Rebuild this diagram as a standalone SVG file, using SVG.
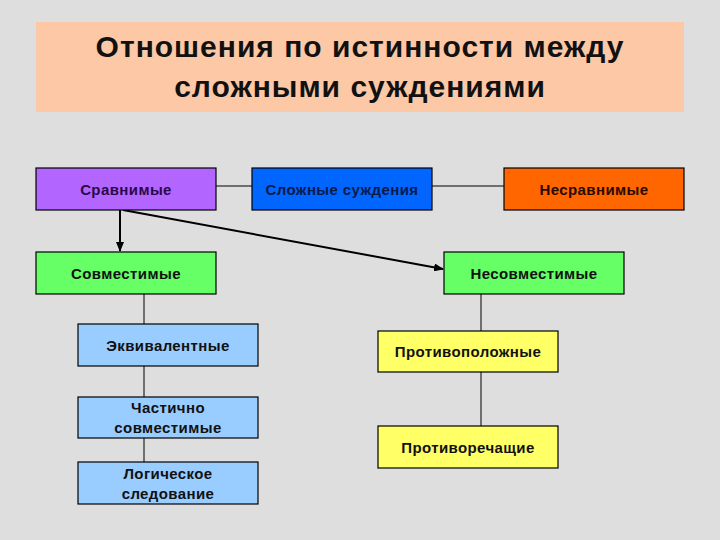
<svg xmlns="http://www.w3.org/2000/svg" width="720" height="540" viewBox="0 0 720 540">
<defs>
<style>
.box{stroke:#000;stroke-width:1.2}
.t{font-family:"Liberation Sans",Arial,sans-serif;font-size:15px;font-weight:bold;fill:#111;text-anchor:middle;letter-spacing:0.4px}
.title{font-family:"Liberation Sans",Arial,sans-serif;font-size:30px;font-weight:bold;fill:#111;text-anchor:middle;letter-spacing:1px}
.ln{stroke:#000;stroke-width:1;fill:none}
.ar{stroke:#000;stroke-width:2;fill:none}
</style>
<marker id="ah" markerWidth="10" markerHeight="8" refX="9" refY="4" orient="auto" markerUnits="userSpaceOnUse">
<path d="M0,0 L10,4 L0,8 Z" fill="#000"/>
</marker>
</defs>
<rect width="720" height="540" fill="#dedede"/>
<g id="title">
<rect x="36" y="22" width="648" height="90" fill="#fcc8a6"/>
<text class="title" x="360" y="57">Отношения по истинности между</text>
<text class="title" x="360" y="97">сложными суждениями</text>
</g>
<g id="connectors">
<line class="ln" x1="216" y1="186" x2="252" y2="186"/>
<line class="ln" x1="432" y1="186" x2="504" y2="186"/>
<line class="ar" x1="120" y1="210" x2="120" y2="251" marker-end="url(#ah)"/>
<line class="ar" x1="123" y1="210" x2="443" y2="269" marker-end="url(#ah)"/>
<line class="ln" x1="144" y1="294" x2="144" y2="324"/>
<line class="ln" x1="144" y1="366" x2="144" y2="397"/>
<line class="ln" x1="144" y1="438" x2="144" y2="462"/>
<line class="ln" x1="481" y1="294" x2="481" y2="331"/>
<line class="ln" x1="481" y1="372" x2="481" y2="426"/>
</g>
<g id="n-sravnimye">
<rect class="box" x="36" y="168" width="180" height="42" fill="#b266ff"/>
<text class="t" x="126" y="195" style="fill:#2a0a4a">Сравнимые</text>
</g>
<g id="n-slozhnye">
<rect class="box" x="252" y="168" width="180" height="42" fill="#0066ff"/>
<text class="t" x="342" y="195" style="fill:#0a1a4a">Сложные суждения</text>
</g>
<g id="n-nesravnimye">
<rect class="box" x="504" y="168" width="180" height="42" fill="#ff6600"/>
<text class="t" x="594" y="195" style="fill:#2a0a00">Несравнимые</text>
</g>
<g id="n-sovmestimye">
<rect class="box" x="36" y="252" width="180" height="42" fill="#66ff66"/>
<text class="t" x="126" y="279">Совместимые</text>
</g>
<g id="n-nesovmestimye">
<rect class="box" x="444" y="252" width="180" height="42" fill="#66ff66"/>
<text class="t" x="534" y="279">Несовместимые</text>
</g>
<g id="n-ekviv">
<rect class="box" x="78" y="324" width="180" height="42" fill="#99ccff"/>
<text class="t" x="168" y="351">Эквивалентные</text>
</g>
<g id="n-chastichno">
<rect class="box" x="78" y="397" width="180" height="41" fill="#99ccff"/>
<text class="t" x="168" y="413">Частично</text>
<text class="t" x="168" y="433">совместимые</text>
</g>
<g id="n-logich">
<rect class="box" x="78" y="462" width="180" height="42" fill="#99ccff"/>
<text class="t" x="168" y="479">Логическое</text>
<text class="t" x="168" y="499">следование</text>
</g>
<g id="n-protivopol">
<rect class="box" x="378" y="331" width="180" height="41" fill="#ffff66"/>
<text class="t" x="468" y="357">Противоположные</text>
</g>
<g id="n-protivorech">
<rect class="box" x="378" y="426" width="180" height="42" fill="#ffff66"/>
<text class="t" x="468" y="453">Противоречащие</text>
</g>
</svg>
